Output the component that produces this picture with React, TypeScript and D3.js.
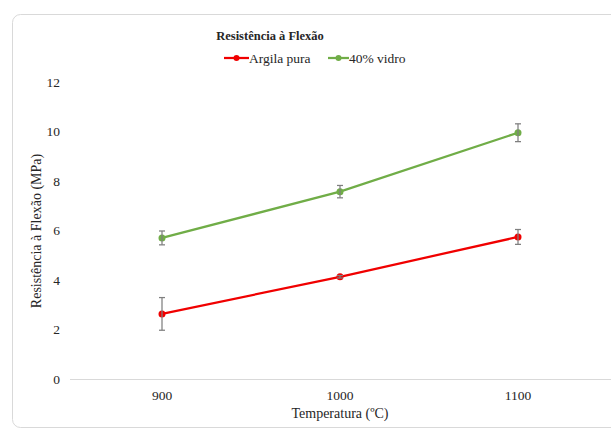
import { useRef, useEffect } from "react";
import * as d3 from "d3";

const temperatures = ["900", "1000", "1100"];
const argilaPura = [2.63, 4.13, 5.74];
const argilaErr = [0.66, 0.05, 0.3];
const vidro40 = [5.7, 7.57, 9.95];
const vidroErr = [0.28, 0.25, 0.36];
const yTicks = [0, 2, 4, 6, 8, 10, 12];

const series = [
  { name: "Argila pura", values: argilaPura, errors: argilaErr, color: "#f00000" },
  { name: "40% vidro", values: vidro40, errors: vidroErr, color: "#70ad47" },
];

export default function App() {
  const svgRef = useRef<SVGSVGElement | null>(null);

  useEffect(() => {
    const svg = d3.select(svgRef.current);
    svg.selectAll("*").remove();

    const width = 611;
    const font = "Liberation Serif";

    // chart frame (cut off on the right like the source)
    svg
      .append("rect")
      .attr("x", 12.5)
      .attr("y", 14.5)
      .attr("width", 640)
      .attr("height", 413)
      .attr("rx", 8)
      .attr("fill", "#fff")
      .attr("stroke", "#d9d9d9");

    const x = d3.scaleBand().domain(temperatures).range([73, 607]);
    const y = d3.scaleLinear().domain([0, 12]).range([379, 82]);

    // x axis line
    svg
      .append("line")
      .attr("x1", 70)
      .attr("x2", width)
      .attr("y1", y(0) + 0.5)
      .attr("y2", y(0) + 0.5)
      .attr("stroke", "#d9d9d9");

    const txt = (sel: any, size: number) =>
      sel
        .style("font-family", font)
        .attr("font-size", size)
        .attr("fill", "#262626");

    // y tick labels
    txt(
      svg
        .selectAll("text.ytick")
        .data(yTicks)
        .join("text")
        .attr("class", "ytick")
        .attr("x", 60)
        .attr("y", (d) => y(d))
        .attr("dy", "0.35em")
        .attr("text-anchor", "end")
        .text((d) => d),
      13.5
    );

    // x tick labels
    txt(
      svg
        .selectAll("text.xtick")
        .data(temperatures)
        .join("text")
        .attr("class", "xtick")
        .attr("x", (d) => x(d)! + x.bandwidth() / 2)
        .attr("y", 395)
        .attr("dy", "0.35em")
        .attr("text-anchor", "middle")
        .text((d) => d),
      13.5
    );

    // axis titles
    txt(
      svg
        .append("text")
        .attr("x", 340)
        .attr("y", 413)
        .attr("dy", "0.35em")
        .attr("text-anchor", "middle")
        .text("Temperatura (ºC)"),
      14
    );

    txt(
      svg
        .append("text")
        .attr("transform", "translate(36,231) rotate(-90)")
        .attr("dy", "0.35em")
        .attr("text-anchor", "middle")
        .text("Resistência à Flexão (MPa)"),
      14
    );

    // title
    txt(
      svg
        .append("text")
        .attr("x", 270)
        .attr("y", 36)
        .attr("dy", "0.35em")
        .attr("text-anchor", "middle")
        .attr("font-weight", 700)
        .text("Resistência à Flexão"),
      12.5
    );

    const cx = (i: number) => x(temperatures[i])! + x.bandwidth() / 2;
    const line = d3
      .line<number>()
      .x((_, i) => cx(i))
      .y((d) => y(d));

    series.forEach((s) => {
      const g = svg.append("g");
      g.append("path")
        .attr("d", line(s.values))
        .attr("fill", "none")
        .attr("stroke", s.color)
        .attr("stroke-width", 2.25)
        .attr("stroke-linecap", "round");

      g.selectAll("circle")
        .data(s.values)
        .join("circle")
        .attr("cx", (_, i) => cx(i))
        .attr("cy", (d) => y(d))
        .attr("r", 3.5)
        .attr("fill", s.color);

      // error bars
      s.values.forEach((v, i) => {
        const e = s.errors[i];
        const eb = g.append("g").attr("stroke", "#7f7f7f").attr("stroke-width", 1.25);
        eb.append("line")
          .attr("x1", cx(i))
          .attr("x2", cx(i))
          .attr("y1", y(v + e))
          .attr("y2", y(v - e));
        [v + e, v - e].forEach((yv) => {
          eb.append("line")
            .attr("x1", cx(i) - 3)
            .attr("x2", cx(i) + 3)
            .attr("y1", y(yv))
            .attr("y2", y(yv));
        });
      });
    });

    // legend
    const legendItems = [
      { ...series[0], lx: 224, tx: 249 },
      { ...series[1], lx: 328, tx: 349 },
    ];
    legendItems.forEach((it) => {
      const ly = 58;
      svg
        .append("line")
        .attr("x1", it.lx)
        .attr("x2", it.tx)
        .attr("y1", ly)
        .attr("y2", ly)
        .attr("stroke", it.color)
        .attr("stroke-width", 2.25);
      svg
        .append("circle")
        .attr("cx", (it.lx + it.tx) / 2)
        .attr("cy", ly)
        .attr("r", 3)
        .attr("fill", it.color);
      txt(
        svg
          .append("text")
          .attr("x", it.tx)
          .attr("y", ly)
          .attr("dy", "0.35em")
          .text(it.name),
        13.5
      );
    });
  }, []);

  return (
    <svg
      ref={svgRef}
      width={611}
      height={430}
      style={{ position: "absolute", left: 0, top: 0, background: "#fff" }}
    />
  );
}
